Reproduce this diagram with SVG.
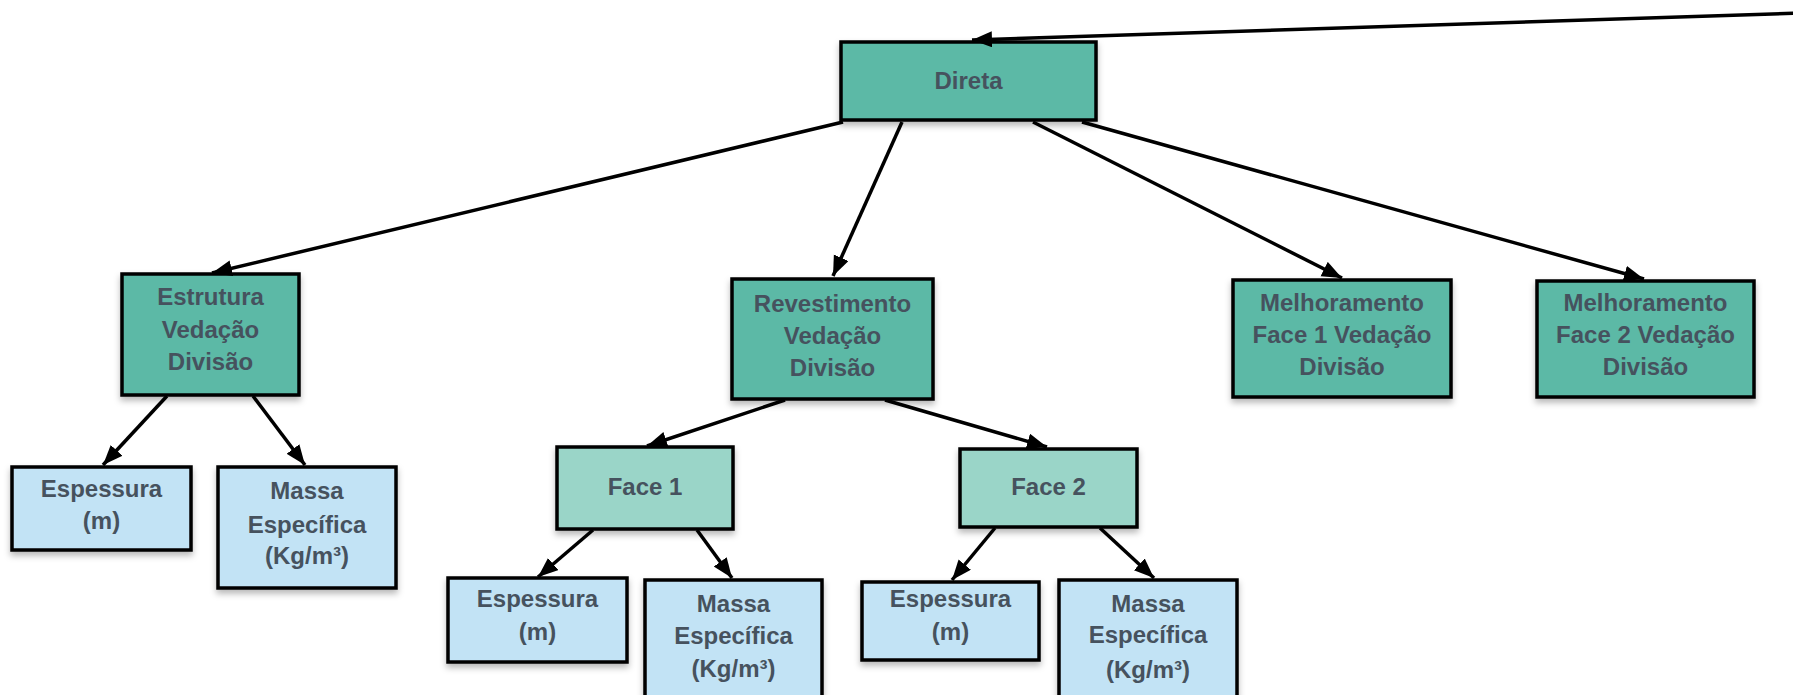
<svg xmlns="http://www.w3.org/2000/svg" width="1793" height="695" viewBox="0 0 1793 695">
  <defs>
    <filter id="sh" x="-10%" y="-10%" width="120%" height="130%">
      <feDropShadow dx="0" dy="4" stdDeviation="3" flood-color="#000" flood-opacity="0.28"/>
    </filter>
    <marker id="arr" markerUnits="userSpaceOnUse" markerWidth="22" markerHeight="18" refX="20" refY="8" orient="auto">
      <path d="M0,0 L20,8 L0,16 z" fill="#000"/>
    </marker>
    <style>
      .box { stroke: #000; stroke-width: 3.5; filter: url(#sh); }
      .dark { fill: #5BB9A6; }
      .light { fill: #9AD5C8; }
      .blue { fill: #C2E3F5; }
      text { font-family: "Liberation Sans", Arial, sans-serif; font-weight: bold; font-size: 24px; fill: #46525E; text-anchor: middle; }
      .edge { stroke: #000; stroke-width: 3.5; fill: none; marker-end: url(#arr); }
    </style>
  </defs>

  <g id="direta">
    <rect class="box dark" x="841" y="42" width="255" height="78"/>
    <text x="968.5" y="89">Direta</text>
  </g>
  <g id="estrutura">
    <rect class="box dark" x="122" y="274" width="177" height="121"/>
    <text x="210.5" y="305">Estrutura</text>
    <text x="210.5" y="338">Vedação</text>
    <text x="210.5" y="370">Divisão</text>
  </g>
  <g id="revestimento">
    <rect class="box dark" x="732" y="279" width="201" height="120"/>
    <text x="832.5" y="312">Revestimento</text>
    <text x="832.5" y="344">Vedação</text>
    <text x="832.5" y="376">Divisão</text>
  </g>
  <g id="melhoramento1">
    <rect class="box dark" x="1233" y="280" width="218" height="117"/>
    <text x="1342" y="311">Melhoramento</text>
    <text x="1342" y="343">Face 1 Vedação</text>
    <text x="1342" y="375">Divisão</text>
  </g>
  <g id="melhoramento2">
    <rect class="box dark" x="1537" y="281" width="217" height="116"/>
    <text x="1645.5" y="311">Melhoramento</text>
    <text x="1645.5" y="343">Face 2 Vedação</text>
    <text x="1645.5" y="375">Divisão</text>
  </g>
  <g id="espessura-estrutura">
    <rect class="box blue" x="12" y="467" width="179" height="83"/>
    <text x="101.5" y="497">Espessura</text>
    <text x="101.5" y="529">(m)</text>
  </g>
  <g id="massa-estrutura">
    <rect class="box blue" x="218" y="467" width="178" height="121"/>
    <text x="307" y="499">Massa</text>
    <text x="307" y="533">Específica</text>
    <text x="307" y="564">(Kg/m³)</text>
  </g>
  <g id="face1">
    <rect class="box light" x="557" y="447" width="176" height="82"/>
    <text x="645" y="495">Face 1</text>
  </g>
  <g id="face2">
    <rect class="box light" x="960" y="449" width="177" height="78"/>
    <text x="1048.5" y="495">Face 2</text>
  </g>
  <g id="espessura-face1">
    <rect class="box blue" x="448" y="578" width="179" height="84"/>
    <text x="537.5" y="607">Espessura</text>
    <text x="537.5" y="640">(m)</text>
  </g>
  <g id="massa-face1">
    <rect class="box blue" x="645" y="580" width="177" height="125"/>
    <text x="733.5" y="612">Massa</text>
    <text x="733.5" y="644">Específica</text>
    <text x="733.5" y="677">(Kg/m³)</text>
  </g>
  <g id="espessura-face2">
    <rect class="box blue" x="862" y="582" width="177" height="78"/>
    <text x="950.5" y="607">Espessura</text>
    <text x="950.5" y="640">(m)</text>
  </g>
  <g id="massa-face2">
    <rect class="box blue" x="1059" y="580" width="178" height="125"/>
    <text x="1148" y="612">Massa</text>
    <text x="1148" y="643">Específica</text>
    <text x="1148" y="678">(Kg/m³)</text>
  </g>

  <g id="connectors">
    <line class="edge" x1="1800" y1="13" x2="972" y2="40"/>
    <line class="edge" x1="843" y1="122" x2="212" y2="273"/>
    <line class="edge" x1="902" y1="122" x2="833" y2="276"/>
    <line class="edge" x1="1033" y1="122" x2="1342" y2="278"/>
    <line class="edge" x1="1082" y1="122" x2="1644" y2="279"/>
    <line class="edge" x1="167" y1="396" x2="103" y2="465"/>
    <line class="edge" x1="253" y1="396" x2="305" y2="465"/>
    <line class="edge" x1="785" y1="400" x2="647" y2="446"/>
    <line class="edge" x1="885" y1="400" x2="1047" y2="447"/>
    <line class="edge" x1="593" y1="530" x2="538" y2="577"/>
    <line class="edge" x1="697" y1="530" x2="732" y2="578"/>
    <line class="edge" x1="995" y1="528" x2="952" y2="580"/>
    <line class="edge" x1="1100" y1="528" x2="1154" y2="578"/>
  </g>
</svg>
